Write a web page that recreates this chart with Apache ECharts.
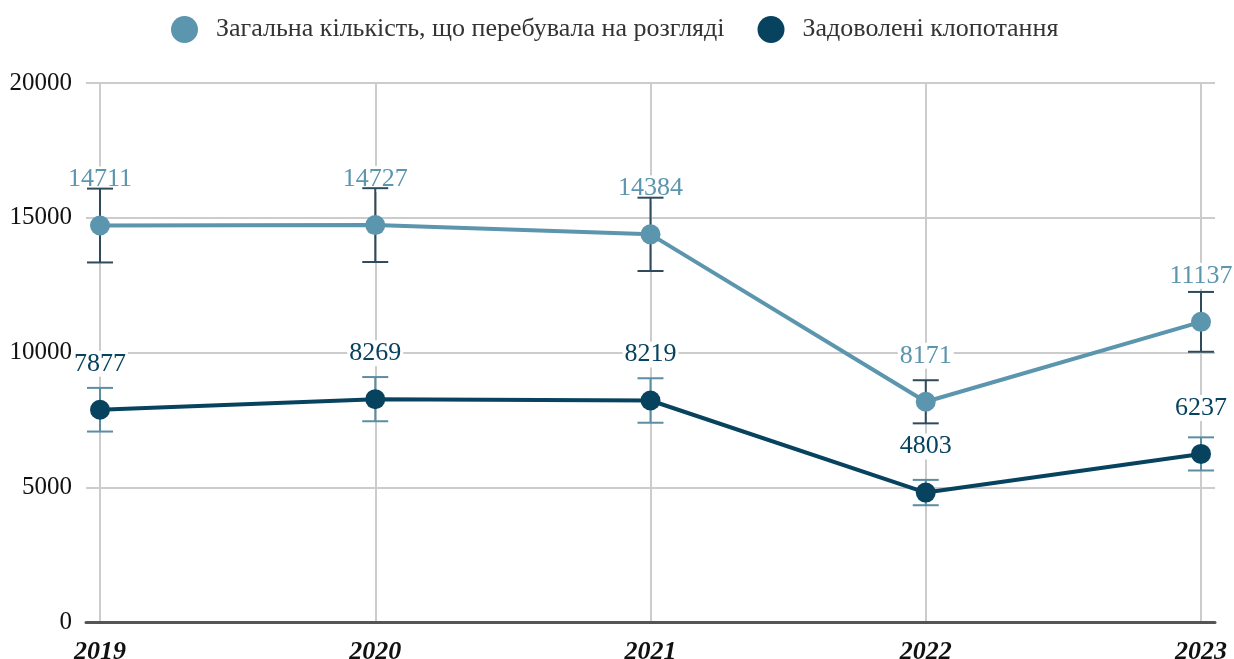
<!DOCTYPE html>
<html>
<head>
<meta charset="utf-8">
<script src="https://cdn.jsdelivr.net/npm/echarts@6/dist/echarts.min.js"></script>
<style>
  html, body { margin: 0; padding: 0; background: #fff; }
  #chartMain { width: 1234px; height: 659px; }
</style>
</head>
<body>
<div id="chartMain"></div>
<script>
var years = ['2019', '2020', '2021', '2022', '2023'];
var totalName = 'Загальна кількість, що перебувала на розгляді';
var grantedName = 'Задоволені клопотання';
var totalValues = [14711, 14727, 14384, 8171, 11137];
var grantedValues = [7877, 8269, 8219, 4803, 6237];
// half-width of the error bars
var totalErr = [1370, 1370, 1360, 800, 1110];
var grantedErr = [810, 820, 825, 470, 615];
var yTicks = [0, 5000, 10000, 15000, 20000];

var lightColor = '#5b95ae';
var darkColor = '#07435f';
var serif = '"Liberation Serif", "DejaVu Serif", serif';

function errData(vals, errs) {
    var out = [];
    for (var i = 0; i < vals.length; i++) {
        out.push([i, vals[i] - errs[i], vals[i] + errs[i]]);
    }
    return out;
}

function errSeries(vals, errs, color) {
    return {
        type: 'custom',
        z: 3,
        silent: true,
        data: errData(vals, errs),
        renderItem: function (params, api) {
            var lo = api.coord([api.value(0), api.value(1)]);
            var hi = api.coord([api.value(0), api.value(2)]);
            var w = 13;
            var st = { stroke: color, lineWidth: 2 };
            return {
                type: 'group',
                children: [
                    { type: 'line', shape: { x1: lo[0], y1: lo[1], x2: hi[0], y2: hi[1] }, style: st },
                    { type: 'line', shape: { x1: lo[0] - w, y1: lo[1], x2: lo[0] + w, y2: lo[1] }, style: st },
                    { type: 'line', shape: { x1: hi[0] - w, y1: hi[1], x2: hi[0] + w, y2: hi[1] }, style: st }
                ]
            };
        }
    };
}

function labelSeries(vals, color) {
    return {
        type: 'line',
        z: 2,
        data: vals,
        symbol: 'circle',
        symbolSize: 20,
        silent: true,
        itemStyle: { color: 'rgba(0,0,0,0)' },
        lineStyle: { color: 'rgba(0,0,0,0)', width: 0 },
        label: {
            show: true,
            position: 'top',
            distance: 23,
            color: color,
            fontFamily: serif,
            fontSize: 26,
            backgroundColor: '#fff',
            padding: [0, 2]
        }
    };
}

function lineSeries(name, vals, color) {
    return {
        name: name,
        type: 'line',
        z: 4,
        data: vals,
        symbol: 'circle',
        symbolSize: 20,
        itemStyle: { color: color },
        lineStyle: { color: color, width: 4 }
    };
}

var myChart = echarts.init(document.getElementById('chartMain'));
var option = {
    backgroundColor: '#fff',
    animation: false,
    legend: {
        data: [totalName, grantedName],
        top: 11,
        left: 166,
        icon: 'circle',
        itemWidth: 27,
        itemHeight: 27,
        itemGap: 33,
        formatter: function (name) { return '  ' + name; },
        textStyle: { fontFamily: serif, fontSize: 26, color: '#333' }
    },
    grid: [
        // data area
        { left: 100, right: 33, top: 83, bottom: 37, outerBoundsMode: 'none' },
        // wider frame for horizontal gridlines and the base line
        { left: 86, right: 19, top: 83, bottom: 37, outerBoundsMode: 'none' }
    ],
    xAxis: [{
        type: 'category',
        gridIndex: 0,
        data: years,
        boundaryGap: false,
        axisTick: { show: false },
        axisLine: { show: false },
        axisLabel: {
            fontFamily: serif,
            fontSize: 26,
            fontStyle: 'italic',
            fontWeight: 'bold',
            color: '#111',
            margin: 17
        },
        splitLine: { show: true, lineStyle: { color: '#ccc', width: 2 } }
    }, {
        type: 'value',
        gridIndex: 1,
        min: 0,
        max: 1,
        axisTick: { show: false },
        axisLabel: { show: false },
        splitLine: { show: false },
        axisLine: { show: true, lineStyle: { color: '#555', width: 3 } }
    }],
    yAxis: [{
        type: 'value',
        gridIndex: 0,
        min: yTicks[0],
        max: yTicks[yTicks.length - 1],
        interval: yTicks[1] - yTicks[0],
        axisLine: { show: false },
        axisTick: { show: false },
        axisLabel: { show: false },
        splitLine: { show: false }
    }, {
        type: 'value',
        gridIndex: 1,
        min: yTicks[0],
        max: yTicks[yTicks.length - 1],
        interval: yTicks[1] - yTicks[0],
        axisLine: { show: false },
        axisTick: { show: false },
        axisLabel: {
            fontFamily: serif,
            fontSize: 25,
            color: '#111',
            margin: 14,
            formatter: function (v) { return String(v); }
        },
        splitLine: { lineStyle: { color: '#ccc', width: 2 } }
    }],
    series: [
        labelSeries(totalValues, lightColor),
        labelSeries(grantedValues, darkColor),
        errSeries(totalValues, totalErr, '#2f4a5b'),
        errSeries(grantedValues, grantedErr, '#5b8da3'),
        lineSeries(totalName, totalValues, lightColor),
        lineSeries(grantedName, grantedValues, darkColor)
    ]
};
myChart.setOption(option);
</script>
</body>
</html>
